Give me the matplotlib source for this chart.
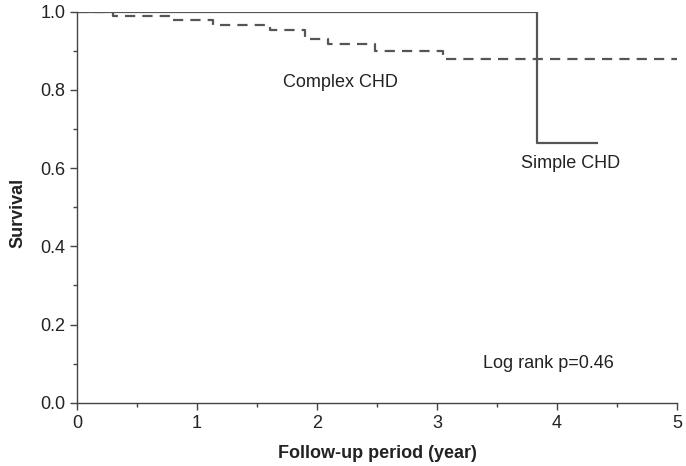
import matplotlib
matplotlib.use("Agg")
import matplotlib.pyplot as plt
from matplotlib.ticker import MultipleLocator

plt.rcParams['font.family'] = ['Liberation Sans', 'DejaVu Sans']

complex_t = [0, 0.30, 0.79, 1.13, 1.61, 1.90, 2.09, 2.48, 3.05, 5.0]
complex_s = [1.0, 0.990, 0.979, 0.967, 0.954, 0.930, 0.918, 0.900, 0.879, 0.879]
simple_t = [0, 3.83, 4.33]
simple_s = [1.0, 0.665, 0.665]

xticks = [0, 1, 2, 3, 4, 5]
yticks = [0.0, 0.2, 0.4, 0.6, 0.8, 1.0]

fig = plt.figure(figsize=(6.86, 4.66), dpi=100)
ax = fig.add_axes([77/686, 1-402.7/466, 600/686, 391/466])
col = '#555555'
ax.plot(simple_t, simple_s, drawstyle='steps-post', color=col, lw=1.6)
ax.plot(complex_t, complex_s, drawstyle='steps-post', color=col, lw=1.6,
        linestyle=(0, (4.6, 3.2)))

ax.set_xlim(0, 5)
ax.set_ylim(0, 1.0)
ax.set_xticks(xticks)
ax.set_yticks(yticks)
ax.set_xticklabels([str(v) for v in xticks])
ax.set_yticklabels([f"{v:.1f}" for v in yticks])
ax.xaxis.set_minor_locator(MultipleLocator(0.5))
ax.yaxis.set_minor_locator(MultipleLocator(0.1))
for s in ['top', 'right']:
    ax.spines[s].set_visible(False)
for s in ['left', 'bottom']:
    ax.spines[s].set_color('#444444')
    ax.spines[s].set_linewidth(1.0)
ax.tick_params(which='major', length=5, width=1, color='#444444', labelsize=13, labelcolor='#222222')
ax.tick_params(which='minor', length=3, width=1, color='#444444')
ax.tick_params(axis='x', which='major', pad=4)

ax.set_xlabel('Follow-up period (year)', fontsize=13, fontweight='bold', color='#222222', labelpad=9)
ax.set_ylabel('Survival', fontsize=13, fontweight='bold', color='#222222')
ax.yaxis.set_label_coords(-0.085, 0.485)

ax.text(1.72, 0.820, 'Complex CHD', fontsize=13, color='#222222', va='center', ha='left')
ax.text(3.70, 0.612, 'Simple CHD', fontsize=13, color='#222222', va='center', ha='left')
ax.text(3.38, 0.100, 'Log rank p=0.46', fontsize=13, color='#222222', va='center', ha='left')

fig.savefig('out.png', dpi=100)
